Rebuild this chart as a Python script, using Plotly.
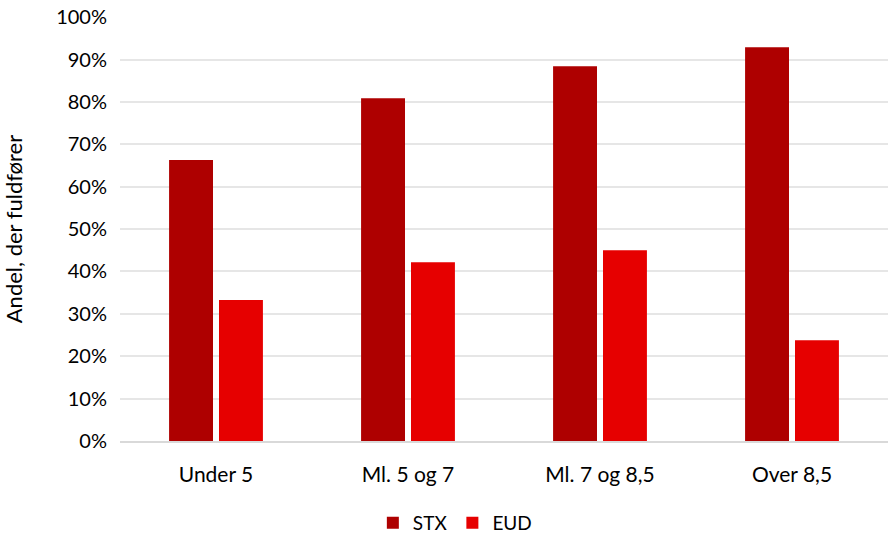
import plotly.graph_objects as go

categories = ["Under 5", "Ml. 5 og 7", "Ml. 7 og 8,5", "Over 8,5"]
stx = [0.663, 0.809, 0.884, 0.929]
eud = [0.333, 0.422, 0.450, 0.238]
y_ticks = [i / 10 for i in range(11)]
y_ticklabels = [f"{i*10}%" for i in range(11)]

font_family = "Lato, 'Open Sans', sans-serif"

fig = go.Figure()
fig.add_trace(go.Bar(name="STX", x=categories, y=stx, marker=dict(color="#AE0000", line=dict(width=0))))
fig.add_trace(go.Bar(name="EUD", x=categories, y=eud, marker=dict(color="#E60000", line=dict(width=0))))

fig.update_layout(
    width=888, height=535,
    margin=dict(l=120, r=0, t=17, b=94, autoexpand=False),
    barmode="group", bargap=0.48, bargroupgap=0.12,
    plot_bgcolor="white", paper_bgcolor="white",
    font=dict(family=font_family, size=20, color="#000000"),
    legend=dict(orientation="h", x=0.436, xanchor="center", y=-0.193, yanchor="middle",
                font=dict(size=19), itemwidth=30, traceorder="normal"),
    showlegend=True,
)
fig.update_yaxes(range=[0, 1.0005], tickvals=y_ticks, ticktext=y_ticklabels,
                 showgrid=True, gridcolor="#E6E6E6", gridwidth=1.5, zeroline=False,
                 ticks="", ticklabelstandoff=12, automargin=False, ticklabeloverflow="allow",
                 title=dict(text="Andel, der fuldfører", font=dict(size=22), standoff=27))
fig.update_xaxes(showline=True, linecolor="#D9D9D9", linewidth=2, ticks="", automargin=False,
                 tickfont=dict(size=21), ticklabelstandoff=14)

fig.write_html("out.html", config={"displayModeBar": False},
               post_script="document.body.style.margin='0';")
